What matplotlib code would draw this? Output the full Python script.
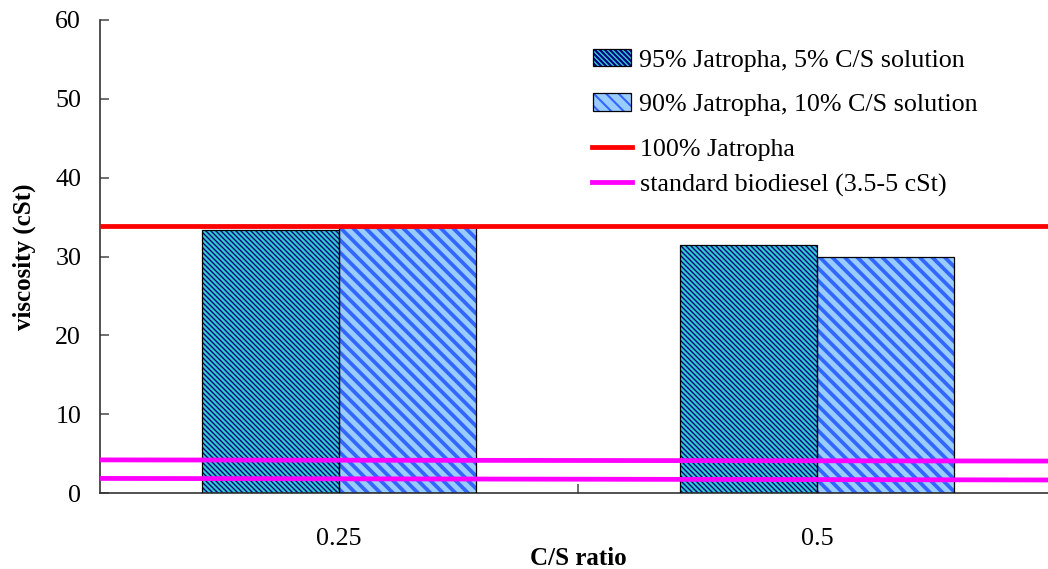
import matplotlib
matplotlib.use("Agg")
import matplotlib.pyplot as plt
import numpy as np
from matplotlib.patches import Patch
from matplotlib.lines import Line2D
from matplotlib.legend_handler import HandlerTuple

# values
categories = ["0.25", "0.5"]
visc_95 = [33.4, 31.5]      # 95% Jatropha, 5% C/S solution
visc_90 = [33.7, 29.9]      # 90% Jatropha, 10% C/S solution
jatropha_100 = [33.9, 33.9]  # 100% Jatropha (start, end)
std_upper = [4.2, 4.05]     # standard biodiesel band, upper line (start, end)
std_lower = [1.85, 1.65]    # standard biodiesel band, lower line (start, end)

plt.rcParams["font.family"] = ["Liberation Serif", "DejaVu Serif"]
plt.rcParams["font.size"] = 12.5

dpi = 150
fig = plt.figure(figsize=(1048 / dpi, 569 / dpi), dpi=dpi)
ax = fig.add_axes([100 / 1048, 76 / 569, 956 / 1048, 473 / 569])

x = np.arange(len(categories))
w = 0.287

c1_face, c1_hatch = "#33CCCC", "#000080"
c2_face, c2_hatch = "#99CCFF", "#3366FF"
hatch1 = "\\" * 10
hatch2 = "\\" * 4

with plt.rc_context({"hatch.linewidth": 0.65}):
    ax.bar(x - w / 2, visc_95, w, color=c1_face, hatch=hatch1, edgecolor=c1_hatch, linewidth=0, zorder=2)
    p1 = Patch(facecolor=c1_face, hatch=hatch1, edgecolor=c1_hatch, linewidth=0)
with plt.rc_context({"hatch.linewidth": 1.8}):
    ax.bar(x + w / 2, visc_90, w, color=c2_face, hatch=hatch2, edgecolor=c2_hatch, linewidth=0, zorder=2)
    p2 = Patch(facecolor=c2_face, hatch=hatch2, edgecolor=c2_hatch, linewidth=0)
ax.bar(x - w / 2, visc_95, w, fill=False, edgecolor="black", linewidth=0.6, zorder=3)
ax.bar(x + w / 2, visc_90, w, fill=False, edgecolor="black", linewidth=0.6, zorder=3)

ax.set_xlim(-0.5, len(categories) - 0.5)
ax.set_ylim(0, 60)
xs = list(ax.get_xlim())
ax.plot(xs, jatropha_100, color="#FF0000", lw=2.3, zorder=4, solid_capstyle="butt")
ax.plot(xs, std_upper, color="#FF00FF", lw=2.3, zorder=4, solid_capstyle="butt")
ax.plot(xs, std_lower, color="#FF00FF", lw=2.3, zorder=4, solid_capstyle="butt")

ax.set_xticks(x)
ax.set_xticklabels(categories)
ax.set_xticks(x[:-1] + 0.5, minor=True)
ax.tick_params(axis="x", which="major", length=0, pad=17)
ax.tick_params(axis="x", which="minor", direction="in", length=4.5, width=0.8, color="#555555")
ax.set_yticks(range(0, 61, 10))
ax.tick_params(axis="y", direction="in", length=4.3, width=0.8, pad=9, color="#555555")

for s in ["top", "right"]:
    ax.spines[s].set_visible(False)
for s in ["left", "bottom"]:
    ax.spines[s].set_linewidth(0.8)
    ax.spines[s].set_color("#333333")

ax.set_xlabel("C/S ratio", fontweight="bold", fontsize=12, labelpad=-1.8)
ax.set_ylabel("viscosity (cSt)", fontweight="bold", fontsize=12, labelpad=9)

border = dict(fill=False, edgecolor="black", linewidth=0.6)
leg1 = ax.legend([(p1, Patch(**border)), (p2, Patch(**border))],
                 ["95% Jatropha, 5% C/S solution", "90% Jatropha, 10% C/S solution"],
                 handler_map={tuple: HandlerTuple(ndivide=1)},
                 loc="upper left", bbox_to_anchor=(593 / 1048, 1 - 49 / 569),
                 bbox_transform=fig.transFigure, frameon=False,
                 handlelength=1.45, handleheight=0.65, handletextpad=0.33,
                 labelspacing=0.82, borderaxespad=0, borderpad=0)
ax.add_artist(leg1)
ax.legend([Line2D([], [], color="#FF0000", lw=2.3), Line2D([], [], color="#FF00FF", lw=2.3)],
          ["100% Jatropha", "standard biodiesel (3.5-5 cSt)"],
          loc="upper left", bbox_to_anchor=(592 / 1048, 1 - 138 / 569),
          bbox_transform=fig.transFigure, frameon=False,
          handlelength=1.55, handletextpad=0.3,
          labelspacing=0.45, borderaxespad=0, borderpad=0)

fig.savefig("out.png", dpi=dpi)
